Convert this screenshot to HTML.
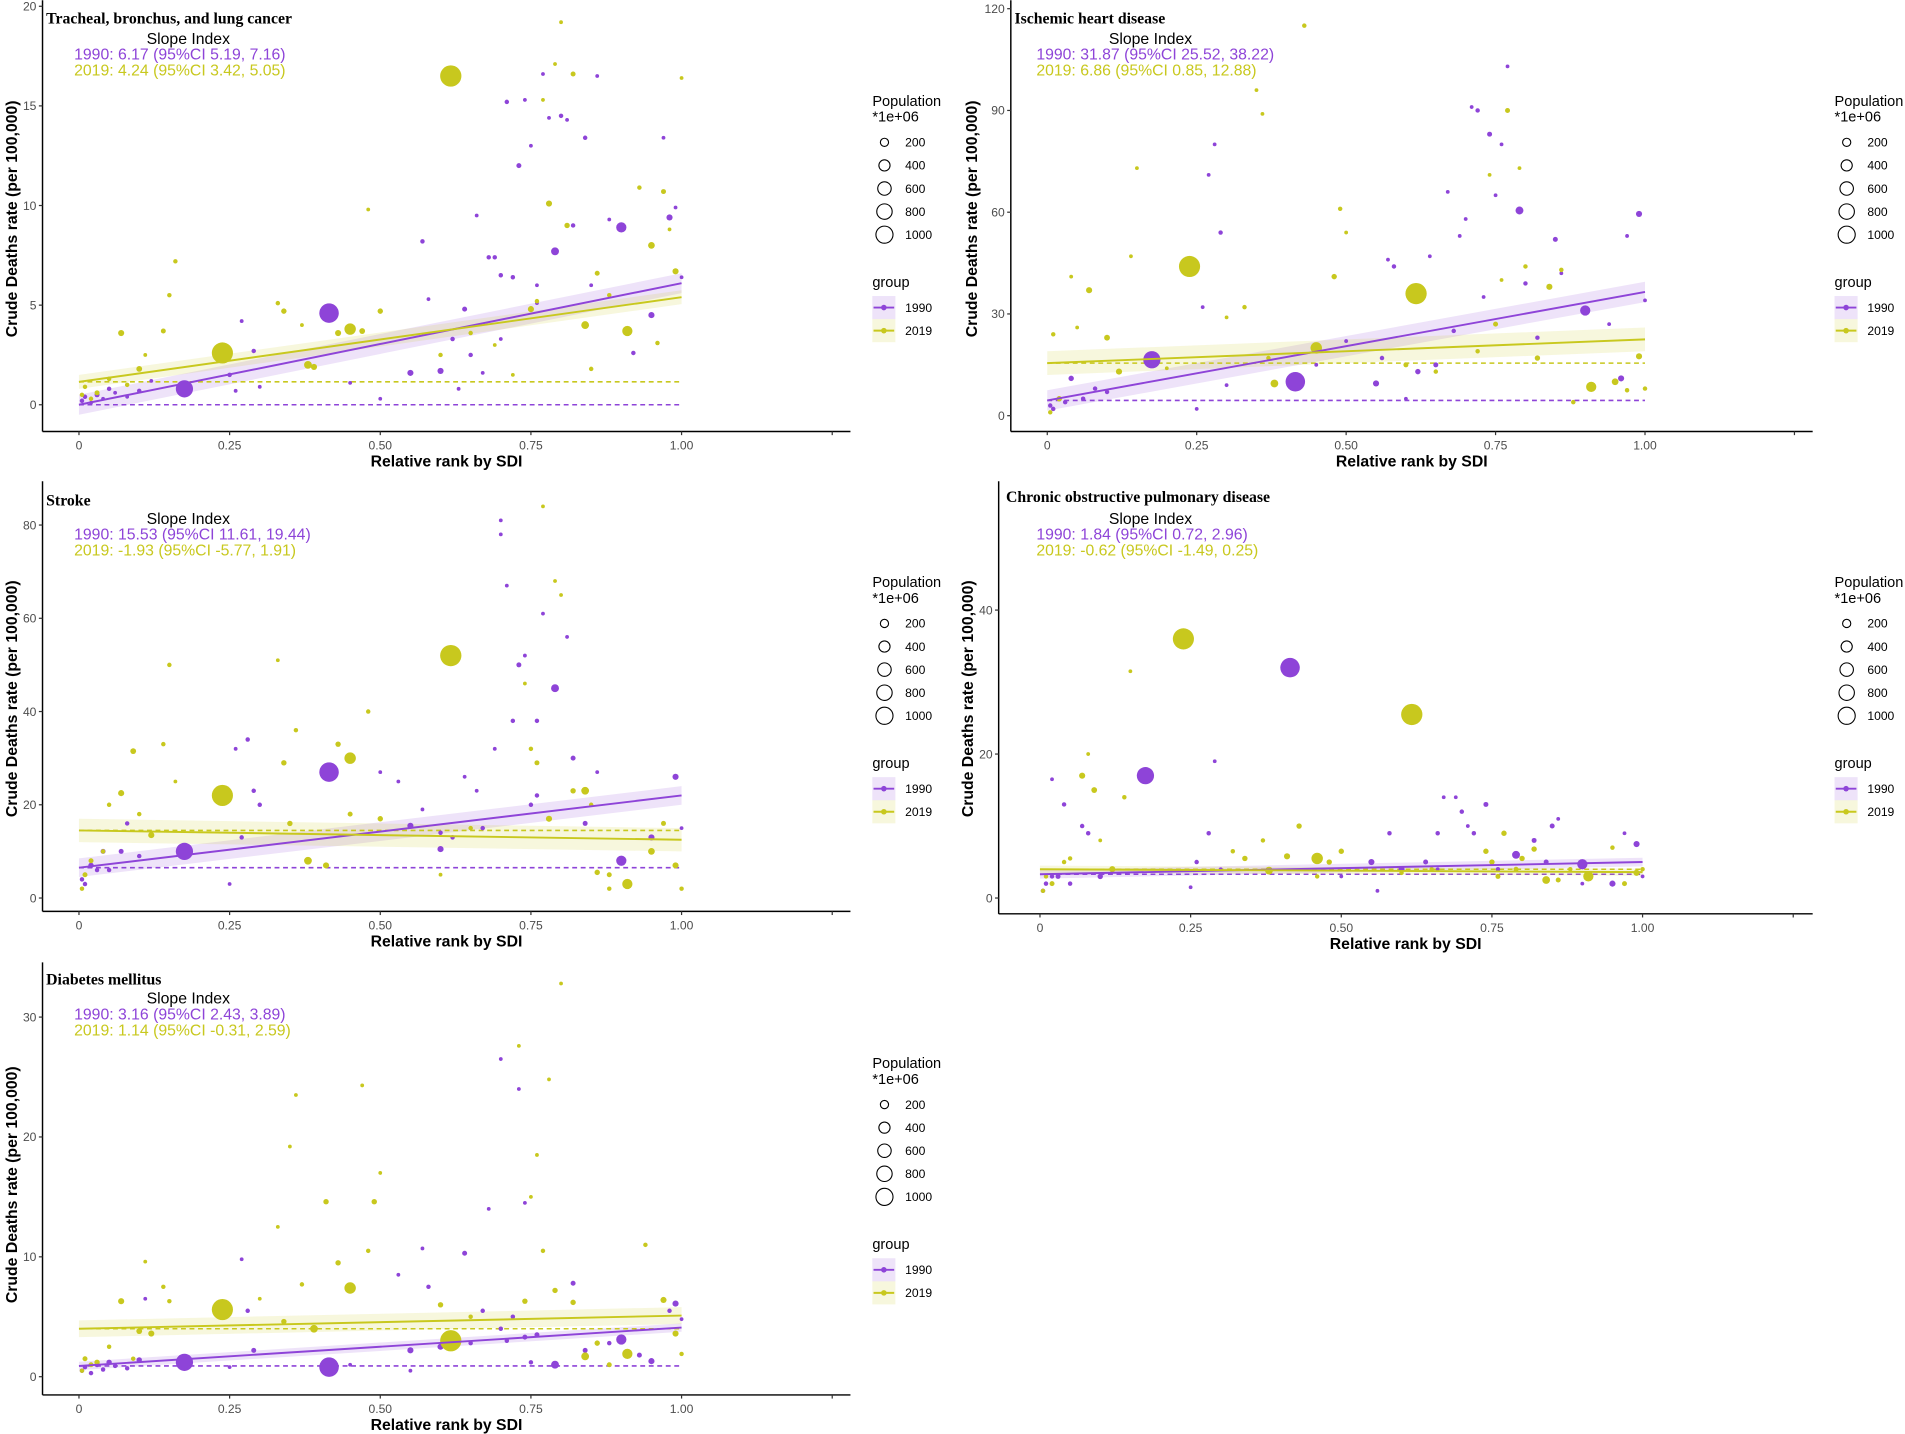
<!DOCTYPE html>
<html><head><meta charset="utf-8"><title>Slope index of inequality</title>
<style>
html,body{margin:0;padding:0;background:#fff;}
svg{display:block;}
text{font-family:"Liberation Sans",Arial,sans-serif;}
.tick{font-size:10px;fill:#4d4d4d;}
.atitle{font-size:13px;font-weight:bold;fill:#000;}
.ptitle{font-family:"Liberation Serif",serif;font-size:13px;font-weight:bold;fill:#000;}
.si{font-size:13px;}
.leg{font-size:12px;fill:#000;}
.legs{font-size:10px;fill:#000;}
</style></head>
<body>
<svg id="fig" width="1905" height="1434" viewBox="0 0 1568 1180" xmlns="http://www.w3.org/2000/svg"></svg>
<script>
const P = "#8e44d8", Y = "#c8c81e";
// ---- data: [relative rank, deaths rate, population (millions)] ----
const lung1990 = [[0.005,0.2,20],[0.01,0.4,20],[0.02,0.1,10],[0.03,0.5,30],[0.04,0.3,10],[0.05,0.8,20],[0.06,0.6,10],[0.08,0.4,10],[0.1,0.7,20],[0.12,1.2,10],[0.175,0.8,870],[0.25,1.5,20],[0.26,0.7,10],[0.27,4.2,10],[0.29,2.7,20],[0.3,0.9,10],[0.415,4.6,1150],[0.45,1.1,10],[0.5,0.3,10],[0.55,1.6,60],[0.57,8.2,20],[0.58,5.3,10],[0.6,1.7,60],[0.62,3.3,20],[0.63,0.8,10],[0.65,2.5,20],[0.66,9.5,10],[0.68,7.4,20],[0.69,7.4,20],[0.7,6.5,20],[0.71,15.2,20],[0.72,6.4,20],[0.73,12.0,30],[0.74,15.3,10],[0.75,13.0,10],[0.76,5.1,10],[0.77,16.6,10],[0.78,14.4,10],[0.79,7.7,125],[0.8,14.5,20],[0.81,14.3,10],[0.82,9.0,20],[0.84,13.4,20],[0.85,6.0,10],[0.86,16.5,10],[0.88,9.3,10],[0.9,8.9,250],[0.92,2.6,20],[0.95,4.5,60],[0.97,13.4,10],[0.98,9.4,60],[0.99,9.9,10],[1.0,6.4,10],[0.64,4.8,30],[0.67,1.6,10],[0.7,3.3,10],[0.76,6.0,10]];
const lung2019 = [[0.005,0.5,20],[0.01,0.9,20],[0.02,0.3,20],[0.03,0.6,30],[0.05,1.3,20],[0.07,3.6,60],[0.08,1.0,20],[0.1,1.8,50],[0.11,2.5,10],[0.14,3.7,30],[0.15,5.5,20],[0.16,7.2,20],[0.238,2.6,1380],[0.33,5.1,20],[0.34,4.7,40],[0.37,4.0,10],[0.38,2.0,120],[0.39,1.9,60],[0.43,3.6,60],[0.45,3.8,330],[0.47,3.7,50],[0.48,9.8,10],[0.5,4.7,40],[0.617,16.5,1400],[0.6,2.5,20],[0.65,3.6,20],[0.72,1.5,10],[0.75,4.8,60],[0.76,5.2,20],[0.77,15.3,10],[0.78,10.1,60],[0.79,17.1,10],[0.8,19.2,10],[0.81,9.0,40],[0.82,16.6,30],[0.84,4.0,120],[0.86,6.6,30],[0.88,5.5,20],[0.91,3.7,250],[0.93,10.9,20],[0.95,8.0,80],[0.97,10.7,30],[0.98,8.8,10],[0.99,6.7,60],[1.0,16.4,10],[0.85,1.8,20],[0.96,3.1,20],[0.69,3.0,10]];
const ihd1990 = [[0.005,3,20],[0.01,2,20],[0.02,5,30],[0.03,4,20],[0.04,11,40],[0.06,5,20],[0.08,8,20],[0.1,7,20],[0.175,16.5,870],[0.25,2,10],[0.26,32,10],[0.27,71,10],[0.28,80,10],[0.29,54,20],[0.3,9,10],[0.415,10,1150],[0.45,15,10],[0.5,22,10],[0.55,9.5,60],[0.57,46,10],[0.58,44,20],[0.6,5,10],[0.64,47,10],[0.65,15,30],[0.67,66,10],[0.69,53,10],[0.7,58,10],[0.71,91,10],[0.72,90,20],[0.73,35,10],[0.74,83,30],[0.75,65,10],[0.76,80,10],[0.77,103,10],[0.79,60.5,125],[0.8,39,20],[0.82,23,20],[0.85,52,30],[0.86,42,10],[0.9,31,250],[0.94,27,10],[0.96,11,60],[0.97,53,10],[0.99,59.5,60],[1.0,34,10],[0.68,25,20],[0.62,13,40],[0.56,17,20]];
const ihd2019 = [[0.005,1,20],[0.01,24,20],[0.02,5,40],[0.04,41,10],[0.05,26,10],[0.07,37,60],[0.1,23,50],[0.12,13,60],[0.14,47,10],[0.15,73,10],[0.238,44,1380],[0.33,32,20],[0.35,96,10],[0.36,89,10],[0.37,17,20],[0.38,9.5,120],[0.43,115,20],[0.45,20,330],[0.48,41,40],[0.49,61,20],[0.5,54,10],[0.617,36,1400],[0.6,15,30],[0.65,13,20],[0.72,19,20],[0.74,71,10],[0.75,27,30],[0.76,40,10],[0.77,90,30],[0.79,73,10],[0.8,44,20],[0.82,17,40],[0.84,38,60],[0.86,43,20],[0.88,4,20],[0.91,8.5,250],[0.95,10,80],[0.97,7.5,20],[0.99,17.5,60],[1.0,8,20],[0.3,29,10],[0.2,14,10]];
const stroke1990 = [[0.005,4,20],[0.01,3,20],[0.02,7,40],[0.03,6,20],[0.04,10,30],[0.05,6,20],[0.07,10,30],[0.08,16,20],[0.1,9,20],[0.175,10,870],[0.25,3,10],[0.26,32,10],[0.27,13,20],[0.28,34,20],[0.29,23,20],[0.3,20,20],[0.415,27,1150],[0.5,27,10],[0.53,25,10],[0.55,15.5,60],[0.57,19,10],[0.6,10.5,60],[0.62,13,20],[0.64,26,10],[0.66,23,10],[0.67,15,20],[0.69,32,10],[0.7,81,10],[0.71,67,10],[0.72,38,20],[0.73,50,30],[0.74,52,10],[0.75,20,20],[0.76,38,20],[0.77,61,10],[0.79,45,125],[0.81,56,10],[0.82,30,30],[0.84,16,30],[0.86,27,10],[0.9,8,250],[0.95,13,60],[0.99,26,60],[1.0,15,10],[0.6,14,20],[0.7,78,10],[0.76,22,20]];
const stroke2019 = [[0.005,2,20],[0.01,5,30],[0.02,8,30],[0.04,10,20],[0.05,20,20],[0.07,22.5,60],[0.09,31.5,50],[0.1,18,20],[0.12,13.5,60],[0.14,33,20],[0.15,50,20],[0.16,25,10],[0.238,22,1380],[0.33,51,10],[0.34,29,40],[0.35,16,40],[0.36,36,20],[0.38,8,120],[0.41,7,60],[0.43,33,40],[0.45,30,330],[0.48,40,20],[0.5,17,40],[0.617,52,1400],[0.6,5,10],[0.65,15,20],[0.74,46,10],[0.75,32,20],[0.76,29,30],[0.77,84,10],[0.78,17,60],[0.79,68,10],[0.8,65,10],[0.82,23,40],[0.84,23,120],[0.86,5.5,40],[0.88,5,30],[0.91,3,250],[0.95,10,80],[0.97,16,30],[0.99,7,60],[1.0,2,20],[0.85,20,20],[0.88,2,20],[0.45,18,30]];
const copd1990 = [[0.005,1,20],[0.01,2,20],[0.02,16.5,10],[0.03,3,30],[0.04,13,20],[0.05,2,20],[0.07,10,20],[0.08,9,20],[0.1,3,40],[0.175,17,870],[0.25,1.5,10],[0.26,5,20],[0.28,9,20],[0.29,19,10],[0.3,4,10],[0.415,32,1150],[0.5,3,10],[0.55,5,60],[0.58,9,20],[0.6,4,60],[0.64,5,30],[0.66,9,20],[0.67,14,10],[0.69,14,10],[0.7,12,20],[0.71,10,10],[0.72,9,20],[0.74,13,30],[0.75,5,20],[0.76,4,20],[0.79,6,125],[0.82,8,30],[0.84,5,30],[0.85,10,30],[0.86,11,10],[0.9,4.7,250],[0.95,2,60],[0.97,9,10],[0.99,7.5,60],[1.0,3,10],[0.02,3,20],[0.9,2,10],[0.56,1,10],[0.66,4,10]];
const copd2019 = [[0.005,1,20],[0.01,3,20],[0.02,2,30],[0.04,5,20],[0.05,5.5,20],[0.07,17,60],[0.09,15,50],[0.1,8,10],[0.12,4,60],[0.14,14,20],[0.15,31.5,10],[0.238,36,1380],[0.32,6.5,20],[0.34,5.5,40],[0.37,8,20],[0.38,3.8,120],[0.41,5.8,60],[0.43,10,40],[0.46,5.5,330],[0.48,5,40],[0.5,6.5,40],[0.617,25.5,1400],[0.6,3.5,20],[0.65,4,20],[0.74,6.5,40],[0.75,5,40],[0.76,3,30],[0.77,9,40],[0.79,4,30],[0.8,5.5,40],[0.82,6.8,40],[0.84,2.5,120],[0.86,2.5,30],[0.88,4,20],[0.91,3,250],[0.95,7,20],[0.97,2,30],[0.99,3.5,60],[1.0,4,20],[0.08,20,10],[0.46,3,20]];
const diab1990 = [[0.005,0.5,20],[0.01,0.8,20],[0.02,0.3,20],[0.03,1.0,30],[0.04,0.6,20],[0.05,1.2,40],[0.06,0.9,20],[0.08,0.7,20],[0.1,1.4,40],[0.11,6.5,10],[0.175,1.2,870],[0.25,0.8,10],[0.27,9.8,10],[0.28,5.5,20],[0.29,2.2,30],[0.415,0.8,1150],[0.45,1.0,10],[0.53,8.5,10],[0.55,2.2,60],[0.57,10.7,10],[0.58,7.5,20],[0.6,2.5,60],[0.64,10.3,30],[0.65,2.8,20],[0.67,5.5,20],[0.68,14,10],[0.7,26.5,10],[0.71,3,20],[0.72,5,20],[0.73,24,10],[0.74,14.5,10],[0.75,1.2,20],[0.76,3.5,30],[0.79,1.0,125],[0.82,7.8,30],[0.84,2.2,30],[0.88,2.8,20],[0.9,3.1,250],[0.93,1.8,30],[0.95,1.3,60],[0.98,5.5,20],[0.99,6.1,60],[1.0,4.8,10],[0.7,4.0,20],[0.74,3.3,30],[0.55,0.5,10]];
const diab2019 = [[0.005,0.5,20],[0.01,1.5,30],[0.02,1.0,30],[0.03,1.2,40],[0.05,2.5,20],[0.07,6.3,60],[0.09,1.5,20],[0.1,3.8,50],[0.11,9.6,10],[0.12,3.6,60],[0.14,7.5,20],[0.15,6.3,20],[0.238,5.6,1380],[0.33,12.5,10],[0.34,4.6,40],[0.35,19.2,10],[0.36,23.5,10],[0.37,7.7,20],[0.39,4.0,120],[0.41,14.6,40],[0.43,9.5,40],[0.45,7.4,330],[0.47,24.3,10],[0.48,10.5,20],[0.49,14.6,40],[0.5,17,10],[0.617,3.0,1400],[0.6,6.0,40],[0.65,5.0,20],[0.74,6.3,40],[0.75,15,10],[0.76,18.5,10],[0.77,10.5,20],[0.78,24.8,10],[0.79,7.2,40],[0.8,32.8,10],[0.82,6.2,40],[0.84,1.7,120],[0.86,2.8,40],[0.88,1.0,30],[0.91,1.9,250],[0.94,11.0,20],[0.97,6.4,60],[0.99,3.6,60],[1.0,1.9,20],[0.3,6.5,10],[0.73,27.6,10]];
// fitted lines: [intercept, value at rank 1, CI half-width]
const lungFit1990 = [0.0, 6.1, 0.5], lungFit2019 = [1.15, 5.4, 0.35];
const ihdFit1990 = [4.5, 36.5, 3], ihdFit2019 = [15.5, 22.5, 3.5];
const strokeFit1990 = [6.5, 22, 2], strokeFit2019 = [14.5, 12.5, 2.5];
const copdFit1990 = [3.3, 5.0, 0.6], copdFit2019 = [4.0, 3.6, 0.5];
const diabFit1990 = [0.9, 4.1, 0.35], diabFit2019 = [4.0, 5.1, 0.7];
const xTickLabels = ["0","0.25","0.50","0.75","1.00"];
const popLegend = [200,400,600,800,1000];

const NS = "http://www.w3.org/2000/svg";
const svg = document.getElementById("fig");
function el(tag, attrs, parent, txt){
  const e = document.createElementNS(NS, tag);
  for (const k in attrs) e.setAttribute(k, attrs[k]);
  if (txt !== undefined) e.textContent = txt;
  (parent || svg).appendChild(e);
  return e;
}
function rad(p){ return 0.9 + 0.21*Math.sqrt(p); }

const panels = [
 {id:"lung", title:"Tracheal, bronchus, and lung cancer", d90:lung1990, d19:lung2019, f90:lungFit1990, f19:lungFit2019,
  si:["1990: 6.17 (95%CI 5.19, 7.16)","2019: 4.24 (95%CI 3.42, 5.05)"],
  ax:35, right:700, ay:355, top:0, x0:65, x1:561, v0px:333, vTop:20, vTopPx:5, yt:[0,5,10,15,20], tx:38, ty:19, sx:61, sy:36, lx:718, ly:83, ytx:14, ytc:180},
 {id:"ihd", title:"Ischemic heart disease", d90:ihd1990, d19:ihd2019, f90:ihdFit1990, f19:ihdFit2019,
  si:["1990: 31.87 (95%CI 25.52, 38.22)","2019: 6.86 (95%CI 0.85, 12.88)"],
  ax:832, right:1492, ay:355, top:0, x0:862, x1:1354, v0px:342, vTop:120, vTopPx:7, yt:[0,30,60,90,120], tx:835, ty:19, sx:853, sy:36, lx:1510, ly:83, ytx:804, ytc:180},
 {id:"stroke", title:"Stroke", d90:stroke1990, d19:stroke2019, f90:strokeFit1990, f19:strokeFit2019,
  si:["1990: 15.53 (95%CI 11.61, 19.44)","2019: -1.93 (95%CI -5.77, 1.91)"],
  ax:35, right:700, ay:750, top:396, x0:65, x1:561, v0px:739, vTop:80, vTopPx:432, yt:[0,20,40,60,80], tx:38, ty:416, sx:61, sy:431, lx:718, ly:479, ytx:14, ytc:575},
 {id:"copd", title:"Chronic obstructive pulmonary disease", d90:copd1990, d19:copd2019, f90:copdFit1990, f19:copdFit2019,
  si:["1990: 1.84 (95%CI 0.72, 2.96)","2019: -0.62 (95%CI -1.49, 0.25)"],
  ax:822, right:1492, ay:752, top:396, x0:856, x1:1352, v0px:739, vTop:40, vTopPx:502, yt:[0,20,40], tx:828, ty:413, sx:853, sy:431, lx:1510, ly:479, ytx:801, ytc:575},
 {id:"diabetes", title:"Diabetes mellitus", d90:diab1990, d19:diab2019, f90:diabFit1990, f19:diabFit2019,
  si:["1990: 3.16 (95%CI 2.43, 3.89)","2019: 1.14 (95%CI -0.31, 2.59)"],
  ax:35, right:700, ay:1148, top:792, x0:65, x1:561, v0px:1133, vTop:30, vTopPx:837, yt:[0,10,20,30], tx:38, ty:810, sx:61, sy:826, lx:718, ly:875, ytx:14, ytc:975}
];

panels.forEach(pn => {
  const g = el("g", {});
  
  
  const X = v => pn.x0 + v*(pn.x1-pn.x0);
  const Yf = v => pn.v0px + v*(pn.vTopPx-pn.v0px)/pn.vTop;

  // CI bands and fit lines
  [[pn.f90,P],[pn.f19,Y]].forEach(([f,c],i) => {
    const band = el("polygon", {points:`${X(0)},${Yf(f[0]+f[2])} ${X(1)},${Yf(f[1]+f[2])} ${X(1)},${Yf(f[1]-f[2])} ${X(0)},${Yf(f[0]-f[2])}`, fill:c, "fill-opacity":0.15}, g);
    
    
    const dl = el("line", {x1:X(0), x2:X(1), y1:Yf(f[0]), y2:Yf(f[0]), stroke:c, "stroke-width":1.3, "stroke-dasharray":"4,3"}, g);
    
    
  });
  // points
  [[pn.d90,P,'1990'],[pn.d19,Y,'2019']].forEach(([d,c,yr]) => {
    d.forEach(pt => {
      const ci = el("circle", {cx:X(pt[0]), cy:Yf(pt[1]), r:rad(pt[2]), fill:c}, g);
      
      
    });
  });
  [[pn.f90,P],[pn.f19,Y]].forEach(([f,c],i) => {
    const fl = el("line", {x1:X(0), x2:X(1), y1:Yf(f[0]), y2:Yf(f[1]), stroke:c, "stroke-width":1.6}, g);
    
    
  });

  // axes
  const ya = el("line", {x1:pn.ax, x2:pn.ax, y1:pn.top, y2:pn.ay, stroke:"#000", "stroke-width":1.2}, g);
  
  
  const xa = el("line", {x1:pn.ax, x2:pn.right, y1:pn.ay, y2:pn.ay, stroke:"#000", "stroke-width":1.2}, g);
  
  
  pn.yt.forEach(v => {
    el("line", {x1:pn.ax-3, x2:pn.ax, y1:Yf(v), y2:Yf(v), stroke:"#333"}, g);
    const t = el("text", {x:pn.ax-5, y:Yf(v)+3.5, "text-anchor":"end", class:"tick"}, g, String(v));
    
    
  });
  [0,0.25,0.5,0.75,1,1.25].forEach((v,i) => {
    el("line", {x1:X(v), x2:X(v), y1:pn.ay, y2:pn.ay+3, stroke:"#333"}, g);
    if (i < xTickLabels.length) {
      const t = el("text", {x:X(v), y:pn.ay+15, "text-anchor":"middle", class:"tick"}, g, xTickLabels[i]);
      
      
    }
  });
  const xt = el("text", {x:(pn.ax+pn.right)/2, y:pn.ay+29, "text-anchor":"middle", class:"atitle"}, g, "Relative rank by SDI");
  
  
  const yt = el("text", {x:0, y:0, "text-anchor":"middle", class:"atitle", transform:`translate(${pn.ytx},${pn.ytc}) rotate(-90)`}, g, "Crude Deaths rate (per 100,000)");
  
  

  // titles
  const tt = el("text", {x:pn.tx, y:pn.ty, class:"ptitle"}, g, pn.title);
  
  
  const s0 = el("text", {x:pn.sx+94, y:pn.sy, "text-anchor":"middle", class:"si", fill:"#000"}, g, "Slope Index");
  
  
  const s1 = el("text", {x:pn.sx, y:pn.sy+13, class:"si", fill:P}, g, pn.si[0]);
  
  
  const s2 = el("text", {x:pn.sx, y:pn.sy+26, class:"si", fill:Y}, g, pn.si[1]);
  
  

  // legend
  const lg = el("g", {}, g);
  
  
  el("text", {x:pn.lx, y:pn.ly+4, class:"leg"}, lg, "Population");
  el("text", {x:pn.lx, y:pn.ly+17, class:"leg"}, lg, "*1e+06");
  popLegend.forEach((p,i) => {
    const c = el("circle", {cx:pn.lx+10, cy:pn.ly+34+i*19, r:rad(p)-0.5, fill:"none", stroke:"#000", "stroke-width":0.9}, lg);
    
    
    el("text", {x:pn.lx+27, y:pn.ly+37.5+i*19, class:"legs"}, lg, String(p));
  });
  el("text", {x:pn.lx, y:pn.ly+153, class:"leg"}, lg, "group");
  [[P,"1990"],[Y,"2019"]].forEach(([c,l],i) => {
    const yy = pn.ly+170+i*19;
    el("rect", {x:pn.lx, y:yy-9.5, width:19, height:19, fill:c, "fill-opacity":0.15}, lg);
    el("line", {x1:pn.lx+1, x2:pn.lx+18, y1:yy, y2:yy, stroke:c, "stroke-width":1.6}, lg);
    el("circle", {cx:pn.lx+9.5, cy:yy, r:2.3, fill:c}, lg);
    const t = el("text", {x:pn.lx+27, y:yy+3.5, class:"legs"}, lg, l);
    
    
  });
});
</script>
</body></html>
